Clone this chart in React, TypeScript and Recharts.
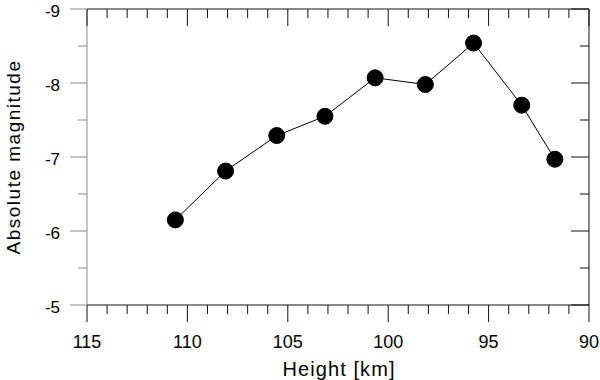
import { LineChart, Line, XAxis, YAxis, Label } from "recharts";

// meteor brightness vs. height
const heights = [110.6, 108.1, 105.55, 103.15, 100.65, 98.15, 95.75, 93.35, 91.7];
const magnitudes = [-6.15, -6.81, -7.29, -7.55, -8.07, -7.98, -8.54, -7.7, -6.97];

const heightTicks = [
  90, 91, 92, 93, 94, 95, 96, 97, 98, 99, 100, 101, 102, 103, 104, 105, 106, 107,
  108, 109, 110, 111, 112, 113, 114, 115,
];
const magnitudeTicks = [-9, -8.5, -8, -7.5, -7, -6.5, -6, -5.5, -5];

const data = heights.map((h, i) => ({ height: h, magnitude: magnitudes[i] }));

const FONT = "'Liberation Sans', Arial, sans-serif";
const INK = "#111";
const GREY = "#8a8a8a";

const isMajorX = (v: number) => v % 5 === 0;
const isMajorY = (v: number) => Number.isInteger(v);

function BottomTick({ x, y, payload }: any) {
  const major = isMajorX(payload.value);
  return (
    <g>
      <line x1={x} x2={x} y1={y} y2={y + (major ? 17 : 9)} stroke={INK} />
      {major && (
        <text x={x} y={y + 43} textAnchor="middle" fontSize={18} fontFamily={FONT} fill="#000">
          {payload.value}
        </text>
      )}
    </g>
  );
}

function TopTick({ x, y, payload }: any) {
  const major = isMajorX(payload.value);
  return <line x1={x} x2={x} y1={y} y2={y + (major ? 17 : 9)} stroke={INK} />;
}

function LeftTick({ x, y, payload }: any) {
  const major = isMajorY(payload.value);
  return (
    <g>
      <line x1={x - (major ? 17 : 9)} x2={x} y1={y} y2={y} stroke={GREY} />
      {major && (
        <text x={x - 27} y={y + 8} textAnchor="end" fontSize={17} fontFamily={FONT} fill="#000">
          {payload.value}
        </text>
      )}
    </g>
  );
}

function RightTick({ x, y, payload }: any) {
  const major = isMajorY(payload.value);
  return <line x1={x - (major ? 18 : 9)} x2={x} y1={y} y2={y} stroke={INK} />;
}

export default function App() {
  return (
    <div style={{ position: "absolute", left: 0, top: 0, background: "#fff" }}>
      <LineChart
        width={600}
        height={380}
        data={data}
        margin={{ top: 8, right: 10, bottom: 0, left: 0 }}
      >
        <XAxis
          xAxisId="bottom"
          dataKey="height"
          type="number"
          domain={[90, 115]}
          reversed
          ticks={heightTicks}
          interval={0}
          tickSize={0}
          tickMargin={0}
          tickLine={false}
          tick={(p: any) => <BottomTick {...p} />}
          axisLine={{ stroke: INK }}
          height={75}
        >
          <Label
            content={() => (
              <text
                x={339}
                y={376}
                textAnchor="middle"
                fontSize={20}
                letterSpacing={1.1}
                fontFamily={FONT}
                fill="#000"
              >
                Height [km]
              </text>
            )}
          />
        </XAxis>
        <XAxis
          xAxisId="top"
          orientation="top"
          dataKey="height"
          type="number"
          domain={[90, 115]}
          reversed
          ticks={heightTicks}
          interval={0}
          tickSize={0}
          tickMargin={0}
          tickLine={false}
          tick={(p: any) => <TopTick {...p} />}
          axisLine={{ stroke: INK }}
          height={1}
        />
        <YAxis
          yAxisId="left"
          type="number"
          domain={[-9, -5]}
          reversed
          ticks={magnitudeTicks}
          interval={0}
          tickSize={0}
          tickMargin={0}
          tickLine={false}
          tick={(p: any) => <LeftTick {...p} />}
          axisLine={{ stroke: GREY }}
          width={87}
        >
          <Label
            content={() => (
              <text
                x={20}
                y={157}
                transform="rotate(-90 20 157)"
                textAnchor="middle"
                fontSize={19}
                letterSpacing={1.5}
                fontFamily={FONT}
                fill="#000"
              >
                Absolute magnitude
              </text>
            )}
          />
        </YAxis>
        <YAxis
          yAxisId="right"
          orientation="right"
          type="number"
          domain={[-9, -5]}
          reversed
          ticks={magnitudeTicks}
          interval={0}
          tickSize={0}
          tickMargin={0}
          tickLine={false}
          tick={(p: any) => <RightTick {...p} />}
          axisLine={{ stroke: INK }}
          width={1}
        />
        {/* invisible twin so the top/right frame axes get drawn */}
        <Line
          xAxisId="top"
          yAxisId="right"
          dataKey="magnitude"
          stroke="none"
          dot={false}
          activeDot={false}
          legendType="none"
          isAnimationActive={false}
        />
        <Line
          xAxisId="bottom"
          yAxisId="left"
          dataKey="magnitude"
          stroke="#000"
          strokeWidth={1}
          dot={{ r: 8, fill: "#000", stroke: "#000", strokeWidth: 1 }}
          isAnimationActive={false}
        />
      </LineChart>
    </div>
  );
}
